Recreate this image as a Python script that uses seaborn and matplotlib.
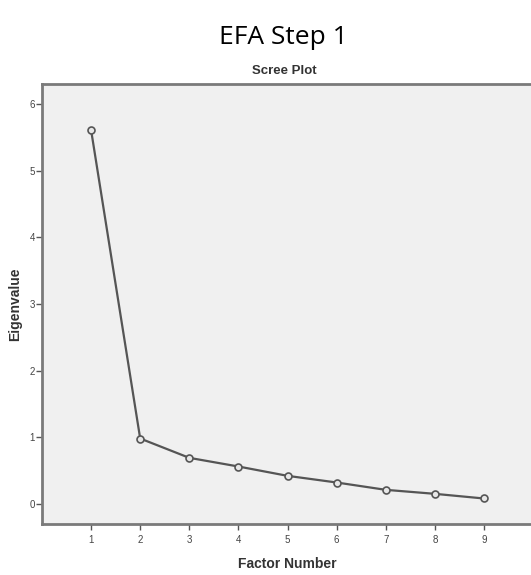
import seaborn as sns
import matplotlib
matplotlib.use('Agg')
import matplotlib.pyplot as plt
import pandas as pd

# scree plot data
factors = [1, 2, 3, 4, 5, 6, 7, 8, 9]
eigenvalues = [5.61, 0.98, 0.69, 0.56, 0.42, 0.32, 0.21, 0.15, 0.08]
y_ticks = [0, 1, 2, 3, 4, 5, 6]

df = pd.DataFrame({"Factor Number": factors, "Eigenvalue": eigenvalues})

sns.set_style("white")
plt.rcParams['font.family'] = ['Liberation Sans', 'DejaVu Sans']

fig = plt.figure(figsize=(5.31, 5.75), dpi=100)
ax = fig.add_axes([0.079, 0.089, 0.925, 0.765])
ax.set_facecolor('#f0f0f0')

sns.lineplot(data=df, x="Factor Number", y="Eigenvalue", ax=ax,
             color='#555555', linewidth=1.6, marker='o', markersize=5,
             markerfacecolor='#e8e8e8', markeredgecolor='#555555',
             markeredgewidth=1.2)

ax.set_xlim(0, 10)
ax.set_ylim(-0.3, 6.3)
ax.set_xticks(factors)
ax.set_yticks(y_ticks)
ax.tick_params(axis='both', labelsize=7, colors='#555555', length=4,
               width=1, direction='out', labelcolor='#444444',
               bottom=True, left=True)
ax.tick_params(axis='y', pad=1)
ax.tick_params(axis='x', pad=4)

for side in ['left', 'bottom', 'top']:
    ax.spines[side].set_color('#7a7a7a')
    ax.spines[side].set_linewidth(2)
ax.spines['right'].set_visible(False)

ax.set_xlabel("Factor Number", fontsize=10, fontweight='bold', color='#333333', labelpad=9)
ax.set_ylabel("Eigenvalue", fontsize=10, fontweight='bold', color='#333333')
ax.yaxis.set_label_coords(-0.04, 0.5)

fig.text(0.536, 0.877, "Scree Plot", ha='center', va='center',
         fontsize=9.5, fontweight='bold', color='#333333')
fig.text(0.533, 0.935, "EFA Step 1", ha='center', va='center',
         fontsize=19, color='black', family=['Open Sans', 'DejaVu Sans'])

fig.savefig("out.png", dpi=100)
